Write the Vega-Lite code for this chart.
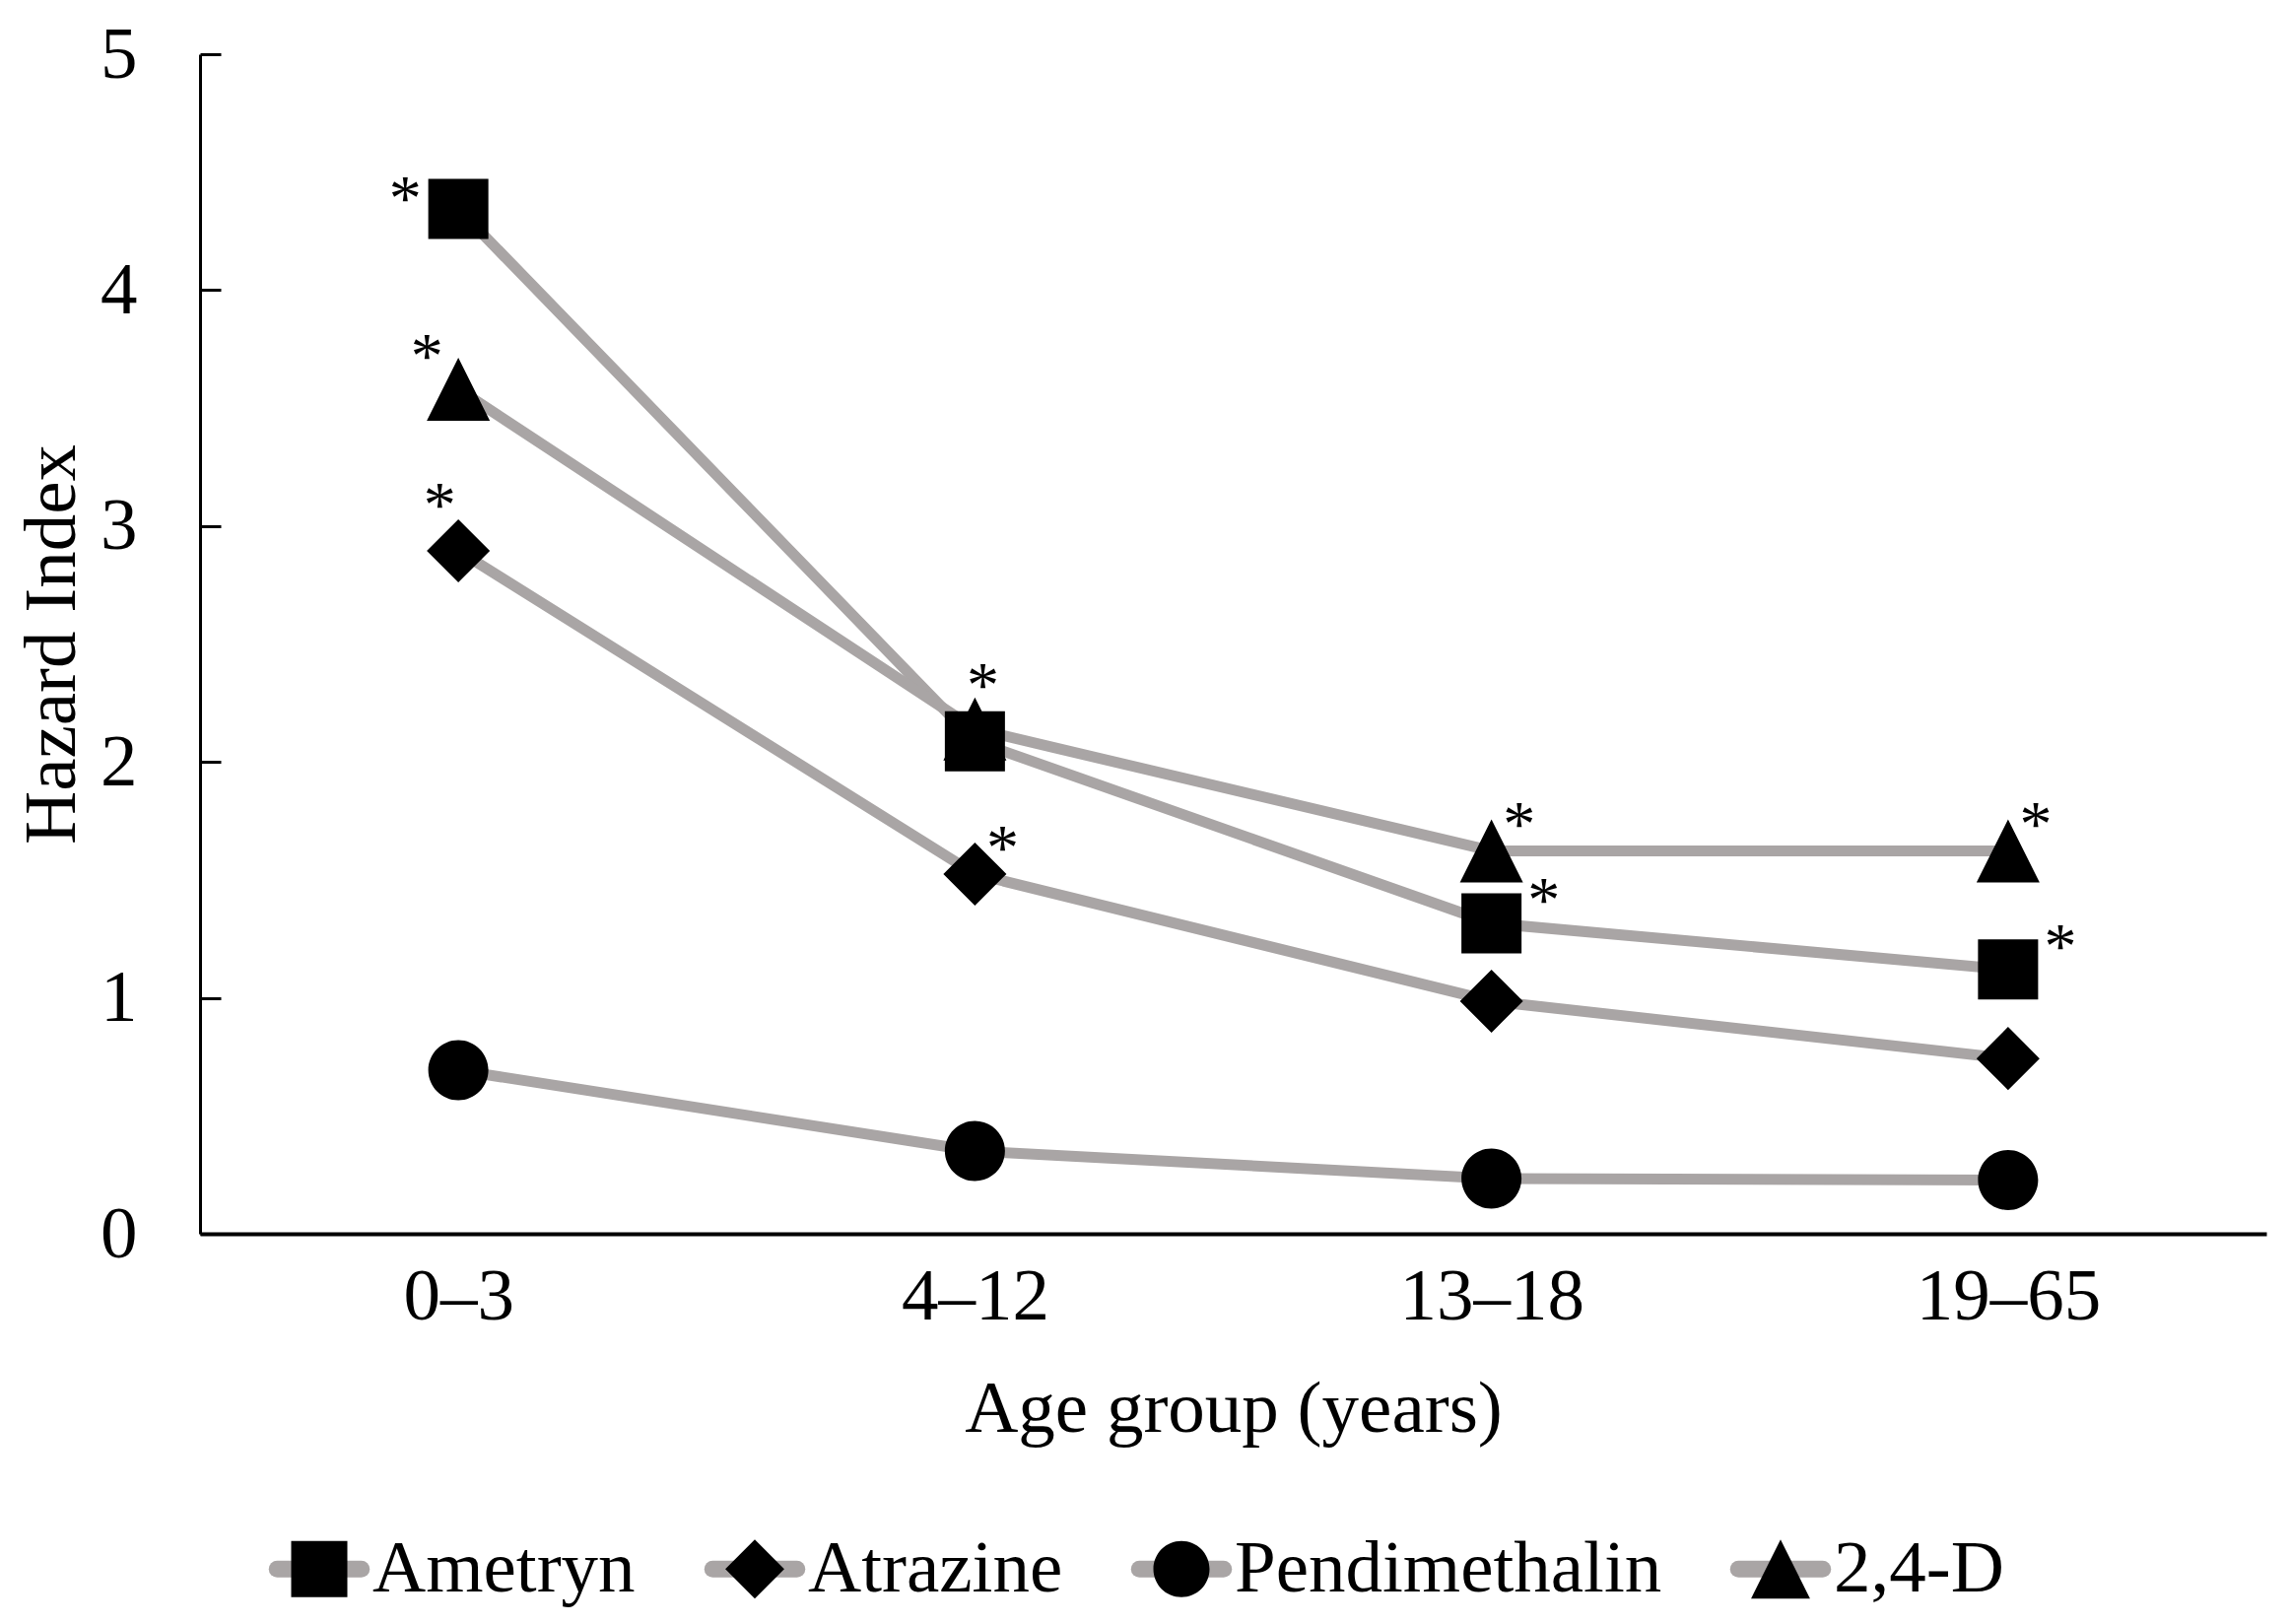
{
  "$schema": "https://vega.github.io/schema/vega-lite/v6.json",
  "width": 2097,
  "height": 1197,
  "autosize": {"type": "none"},
  "padding": {"left": 203, "top": 55, "right": 24, "bottom": 396},
  "background": "white",
  "config": {
    "font": "Liberation Serif",
    "view": {"stroke": null},
    "axis": {
      "labelFont": "Liberation Serif",
      "titleFont": "Liberation Serif",
      "labelColor": "black",
      "titleColor": "black",
      "labelFontSize": 75,
      "titleFontSize": 75,
      "titleFontWeight": "normal",
      "domainColor": "black",
      "tickColor": "black",
      "labelLimit": 1000,
      "grid": false
    },
    "legend": {"labelFont": "Liberation Serif", "labelFontSize": 75, "labelColor": "black", "labelLimit": 1000}
  },
  "data": {
    "values": [
      {"series": "Ametryn", "age": "0–3", "hi": 4.344, "star": "left"},
      {"series": "Ametryn", "age": "4–12", "hi": 2.088, "star": null},
      {"series": "Ametryn", "age": "13–18", "hi": 1.316, "star": "right"},
      {"series": "Ametryn", "age": "19–65", "hi": 1.12, "star": "right"},
      {"series": "Atrazine", "age": "0–3", "hi": 2.895, "star": "above-left"},
      {"series": "Atrazine", "age": "4–12", "hi": 1.525, "star": "upper-right"},
      {"series": "Atrazine", "age": "13–18", "hi": 0.986, "star": null},
      {"series": "Atrazine", "age": "19–65", "hi": 0.743, "star": null},
      {"series": "Pendimethalin", "age": "0–3", "hi": 0.693, "star": null},
      {"series": "Pendimethalin", "age": "4–12", "hi": 0.351, "star": null},
      {"series": "Pendimethalin", "age": "13–18", "hi": 0.234, "star": null},
      {"series": "Pendimethalin", "age": "19–65", "hi": 0.228, "star": null},
      {"series": "2,4-D", "age": "0–3", "hi": 3.58, "star": "upper-left"},
      {"series": "2,4-D", "age": "4–12", "hi": 2.14, "star": "above"},
      {"series": "2,4-D", "age": "13–18", "hi": 1.623, "star": "upper-right"},
      {"series": "2,4-D", "age": "19–65", "hi": 1.623, "star": "upper-right"}
    ]
  },
  "encoding": {
    "x": {
      "field": "age",
      "type": "ordinal",
      "sort": ["0–3", "4–12", "13–18", "19–65"],
      "scale": {"type": "point", "padding": 0.5},
      "axis": {"title": "Age group (years)", "labelAngle": 0, "ticks": false, "domainWidth": 4, "labelPadding": 27, "titlePadding": 40}
    },
    "y": {
      "field": "hi",
      "type": "quantitative",
      "scale": {"domain": [0, 5], "nice": false},
      "axis": {"title": "Hazard Index", "values": [0, 1, 2, 3, 4, 5], "tickSize": -21, "tickWidth": 3, "domainWidth": 3, "labelPadding": 85, "titlePadding": 10}
    }
  },
  "layer": [
    {
      "mark": {"type": "line", "strokeWidth": 11, "strokeCap": "butt", "strokeJoin": "round"},
      "encoding": {
        "order": {"value": null},
        "color": {
          "field": "series",
          "type": "nominal",
          "scale": {"domain": ["Ametryn", "Atrazine", "Pendimethalin", "2,4-D", "_"], "range": ["#a9a5a5", "#a9a5a5", "#a9a5a5", "#a9a5a5", "#a9a5a5"]},
          "legend": {
            "orient": "none", "legendX": 83.5, "legendY": 1499.5, "direction": "horizontal", "title": null,
            "values": ["Ametryn", "Atrazine", "Pendimethalin", "2,4-D"],
            "symbolType": "M-1.5,0L1.5,0", "symbolSize": 3249, "symbolStrokeWidth": 17, "symbolStrokeColor": "#a9a5a5", "symbolFillColor": "transparent",
            "labelOpacity": 0, "labelOffset": 16.5, "columnPadding": 43, "padding": 0,
            "encode": {"symbols": {"update": {"strokeCap": {"value": "round"}}}}
          }
        }
      }
    },
    {
      "mark": {"type": "point", "filled": true, "color": "black", "opacity": 1, "size": 3721},
      "encoding": {
        "shape": {
          "field": "series",
          "type": "nominal",
          "scale": {
            "domain": ["Ametryn", "Atrazine", "Pendimethalin", "2,4-D"],
            "range": [
              "M-2.69,0L2.69,0M-1,-1L1,-1L1,1L-1,1Z",
              "M-2.69,0L2.69,0M0,-1.05L1.05,0L0,1.05L-1.05,0Z",
              "M-2.69,0L2.69,0M1,0A1,1,0,1,1,-1,0A1,1,0,1,1,1,0Z",
              "M-2.69,0L2.69,0M0,-1.05L1.05,1.05L-1.05,1.05Z"
            ]
          },
          "legend": {
            "orient": "none", "legendX": 83.5, "legendY": 1499.5, "direction": "horizontal", "title": null,
            "symbolSize": 3249, "symbolFillColor": "black", "symbolStrokeWidth": 0, "symbolOpacity": 1,
            "labelOffset": 16.5, "columnPadding": 43, "padding": 0
          }
        }
      }
    },
    {
      "transform": [{"filter": "datum.star === 'left'"}],
      "mark": {"type": "text", "text": "*", "fontSize": 66, "baseline": "alphabetic", "align": "center", "dx": -54, "dy": 11, "color": "black"}
    },
    {
      "transform": [{"filter": "datum.star === 'upper-left'"}],
      "mark": {"type": "text", "text": "*", "fontSize": 66, "baseline": "alphabetic", "align": "center", "dx": -32, "dy": -12, "color": "black"}
    },
    {
      "transform": [{"filter": "datum.star === 'above-left'"}],
      "mark": {"type": "text", "text": "*", "fontSize": 66, "baseline": "alphabetic", "align": "center", "dx": -19, "dy": -25, "color": "black"}
    },
    {
      "transform": [{"filter": "datum.star === 'above'"}],
      "mark": {"type": "text", "text": "*", "fontSize": 66, "baseline": "alphabetic", "align": "center", "dx": 8, "dy": -23, "color": "black"}
    },
    {
      "transform": [{"filter": "datum.star === 'upper-right'"}],
      "mark": {"type": "text", "text": "*", "fontSize": 66, "baseline": "alphabetic", "align": "center", "dx": 28, "dy": -5, "color": "black"}
    },
    {
      "transform": [{"filter": "datum.star === 'right'"}],
      "mark": {"type": "text", "text": "*", "fontSize": 66, "baseline": "alphabetic", "align": "center", "dx": 53, "dy": -2, "color": "black"}
    }
  ]
}
